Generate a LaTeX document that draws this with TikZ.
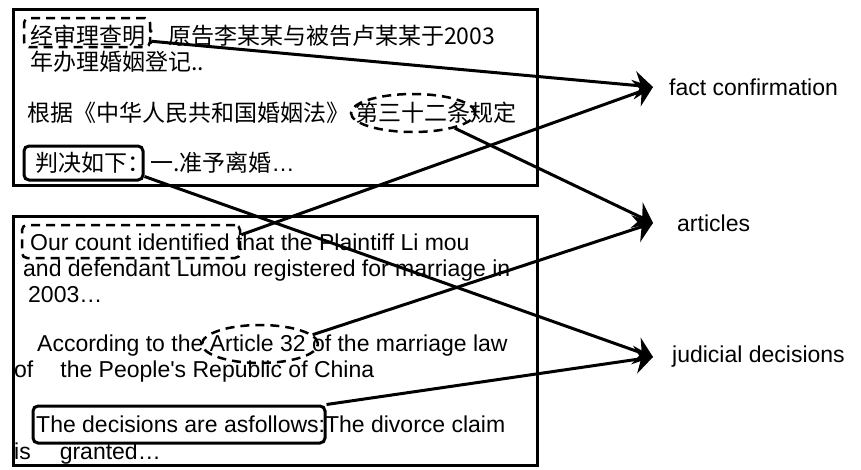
\documentclass[tikz,border=0pt]{standalone}
\usepackage{fontspec}
\setmainfont{Liberation Sans}
\newfontfamily\cjk{Noto Sans CJK SC}
\usetikzlibrary{arrows.meta,shapes.geometric}
\begin{document}
\begin{tikzpicture}[x=1pt,y=-1pt,
  txt/.style={inner sep=0pt, anchor=base west, font=\fontsize{23}{27}\selectfont},
  zh/.style={txt, font=\fontsize{23}{27}\selectfont\cjk},
  lbl/.style={inner sep=0pt, anchor=west, font=\fontsize{23}{27}\selectfont},
  panel/.style={draw, line width=3pt, inner sep=0pt},
  hlrect/.style={draw, line width=2.5pt, dash pattern=on 9pt off 6pt, rounded corners=5pt, inner sep=0pt},
  hlell/.style={draw, ellipse, line width=2.5pt, dash pattern=on 9pt off 6pt, inner sep=0pt},
  hlbox/.style={draw, line width=3pt, rounded corners=5pt, inner sep=0pt},
  conn/.style={line width=3pt, -{Stealth[length=18pt,width=28pt,inset=6pt]}}]

\useasboundingbox (0,0) rectangle (861,469);

% panels
\node[panel, minimum width=524pt, minimum height=176pt] (top) at (275,97) {};
\node[panel, minimum width=524pt, minimum height=249pt] (bot) at (275,340.5) {};

% Chinese text
\node[zh] (c1) at (30,44.5) {经审理查明：原告李某某与被告卢某某于2003};
\node[zh] (c2) at (30,70.5) {年办理婚姻登记..};
\node[zh] (c3) at (27,121.5) {根据《中华人民共和国婚姻法》\hspace{6pt}第三十二条规定};
\node[zh] (c4) at (35,171.5) {判决如下：一.准予离婚{\rmfamily …}};

% English text
\node[txt] (e1t) at (30,250) {Our count identified that the Plaintiff Li mou};
\node[txt] (e2t) at (23,276) {and defendant Lumou registered for marriage in};
\node[txt] (e3t) at (28,302) {2003…};
\node[txt] (e4t) at (37,351) {According to the Article 32 of the marriage law};
\node[txt] (e5t) at (14,377) {of\hspace{27pt}the People\textquotesingle s Republic of China};
\node[txt] (e6t) at (36,432) {The decisions are asfollows:The divorce claim};
\node[txt] (e7t) at (14,459) {is\hspace{29pt}granted…};

% highlights
\node[hlrect, minimum width=126pt, minimum height=29pt] (h1) at (87,32.5) {};
\node[hlell, minimum width=124pt, minimum height=38pt] (o1) at (413,113) {};
\node[hlbox, minimum width=119pt, minimum height=34pt] (b1) at (83.5,163) {};
\node[hlrect, minimum width=218pt, minimum height=33pt] (h2) at (131,241.5) {};
\node[hlell, minimum width=116pt, minimum height=38pt] (o2) at (260,344) {};
\node[hlbox, minimum width=292pt, minimum height=37pt] (b2) at (179,424.5) {};

% labels
\node[lbl] (fc) at (669,87) {fact confirmation};
\node[lbl] (ar) at (677,223) {articles};
\node[lbl] (jd) at (672,357) {judicial decisions};

% connectors
\draw[conn] ([yshift=7pt]h1.south east) -- ([xshift=-16pt]fc.west);
\draw[conn] ([yshift=-11pt]h2.north east) -- ([xshift=-16pt]fc.west);
\draw[conn] (o1.-20) -- ([xshift=-24pt]ar.west);
\draw[conn] (o2.10) -- ([xshift=-24pt]ar.west);
\draw[conn] ([yshift=5pt]b1.south east) -- ([xshift=-19pt]jd.west);
\draw[conn] (b2.north east) -- ([xshift=-19pt]jd.west);
\end{tikzpicture}
\end{document}
